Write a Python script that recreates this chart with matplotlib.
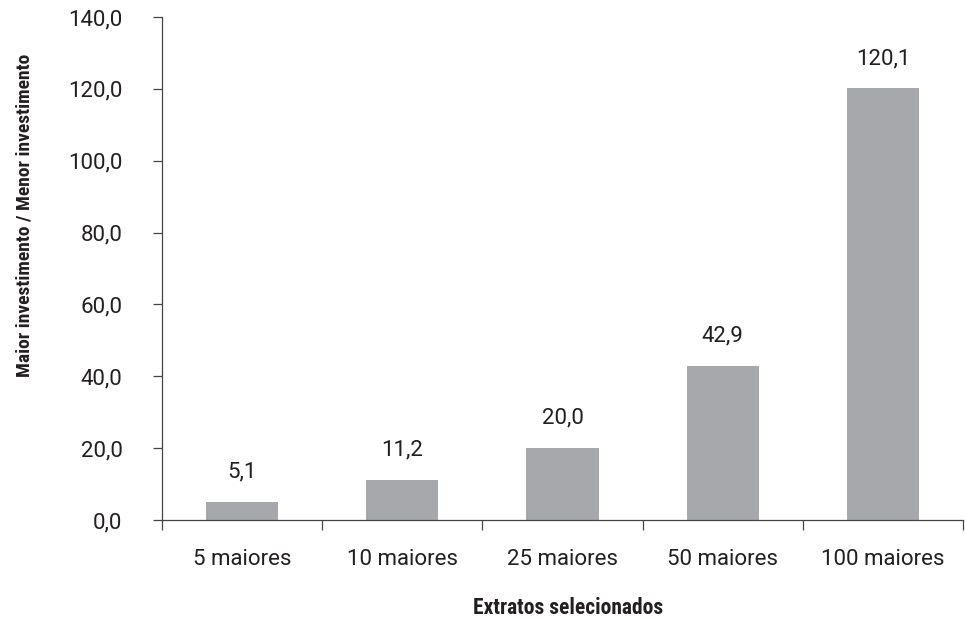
import numpy as np
import matplotlib
matplotlib.use("Agg")
import matplotlib.pyplot as plt
from matplotlib.ticker import FixedLocator, FuncFormatter

categories = ["5 maiores", "10 maiores", "25 maiores", "50 maiores", "100 maiores"]
values = [5.1, 11.2, 20.0, 42.9, 120.1]
yticks = [0, 20, 40, 60, 80, 100, 120, 140]

plt.rcParams["font.family"] = ["Roboto", "DejaVu Sans"]
cond = ["Roboto Condensed", "Liberation Sans Narrow", "Roboto", "DejaVu Sans"]
txt = "#231f20"

fig = plt.figure(figsize=(9.65, 6.2), dpi=100)
ax = fig.add_axes([162/965, 1-520/620, 801/965, 503/620])

x = np.arange(len(categories))
ax.bar(x, values, width=0.45, color="#a7a8ab")

def br(v):
    return f"{v:.1f}".replace(".", ",")

# value labels above bars
for xi, v in zip(x, values):
    ax.annotate(br(v), (xi, v), xytext=(0, 14), textcoords="offset points",
                ha="center", va="bottom", fontsize=16, color=txt)

ax.set_xlim(-0.5, len(categories) - 0.5)
ax.set_ylim(0, 140)
ax.set_yticks(yticks)
ax.yaxis.set_major_formatter(FuncFormatter(lambda v, p: br(v)))
ax.set_xticks(x, categories)
ax.xaxis.set_minor_locator(FixedLocator(np.arange(len(categories) + 1) - 0.5))
ax.tick_params(axis="x", which="major", length=0, pad=21, labelsize=16, labelcolor=txt)
ax.tick_params(axis="x", which="minor", length=7, width=0.9, color="#444444", direction="out")
ax.tick_params(axis="y", length=6.5, width=0.9, color="#444444", pad=22, labelsize=16, labelcolor=txt)

for s in ["top", "right"]:
    ax.spines[s].set_visible(False)
for s in ["left", "bottom"]:
    ax.spines[s].set_color("#444444")
    ax.spines[s].set_linewidth(0.9)

ax.set_ylabel("Maior investimento / Menor investimento", fontsize=14, fontweight="bold",
              family=cond, color=txt, va="center", ha="center")
ax.yaxis.set_label_coords(-0.172, 0.606)
ax.set_xlabel("Extratos selecionados", fontsize=15.5, fontweight="bold",
              family=cond, color=txt, va="center", ha="center")
ax.xaxis.set_label_coords(0.507, -0.175)

fig.savefig("out.png", dpi=100)
